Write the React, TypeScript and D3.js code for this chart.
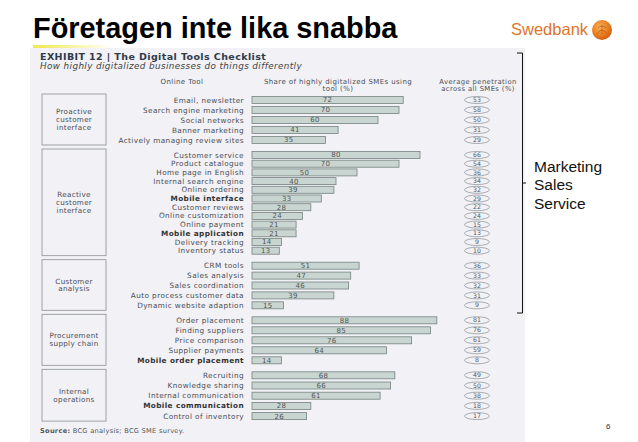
import * as d3 from "d3";

// data read from the scanned exhibit
const groupNames = [
  ["Proactive", "customer", "interface"],
  ["Reactive", "customer", "interface"],
  ["Customer", "analysis"],
  ["Procurement", "supply chain"],
  ["Internal", "operations"],
];

const tools = [
  "Email, newsletter", "Search engine marketing", "Social networks", "Banner marketing", "Actively managing review sites",
  "Customer service", "Product catalogue", "Home page in English", "Internal search engine", "Online ordering",
  "Mobile interface", "Customer reviews", "Online customization", "Online payment", "Mobile application",
  "Delivery tracking", "Inventory status",
  "CRM tools", "Sales analysis", "Sales coordination", "Auto process customer data", "Dynamic website adaption",
  "Order placement", "Finding suppliers", "Price comparison", "Supplier payments", "Mobile order placement",
  "Recruiting", "Knowledge sharing", "Internal communication", "Mobile communication", "Control of inventory",
];
const toolGroup = [
  0, 0, 0, 0, 0,
  1, 1, 1, 1, 1, 1, 1, 1, 1, 1, 1, 1,
  2, 2, 2, 2, 2,
  3, 3, 3, 3, 3,
  4, 4, 4, 4, 4,
];
const shareHighly = [
  72, 70, 60, 41, 35,
  80, 70, 50, 40, 39, 33, 28, 24, 21, 21, 14, 13,
  51, 47, 46, 39, 15,
  88, 85, 76, 64, 14,
  68, 66, 61, 28, 26,
];
const avgAll = [
  53, 58, 50, 31, 29,
  66, 54, 36, 34, 32, 29, 22, 24, 15, 13, 9, 10,
  36, 33, 32, 31, 9,
  81, 76, 61, 59, 8,
  49, 50, 38, 18, 17,
];
const boldTools = ["Mobile interface", "Mobile application", "Mobile order placement", "Mobile communication"];
const sideNotes = ["Marketing", "Sales", "Service"];

const W = 638;
const H = 442;

export default function App() {
  // the scan is slightly uneven: the long second block is packed tighter
  const rowStep = [10, 8.7, 9.9, 10, 10.2];
  const groupGap = 15;
  const rowY: number[] = [];
  tools.forEach((_, i) => {
    if (i === 0) rowY.push(100);
    else if (toolGroup[i] !== toolGroup[i - 1]) rowY.push(rowY[i - 1] + groupGap);
    else rowY.push(rowY[i - 1] + rowStep[toolGroup[i]]);
  });
  const x = d3.scaleLinear().domain([0, 100]).range([252, 462]);
  const small = "'DejaVu Sans', Verdana, sans-serif";
  const arial = "Arial, 'Liberation Sans', sans-serif";
  const ink = "#4a4f55";

  const boxes = groupNames.map((lines, g) => {
    const ys = rowY.filter((_, i) => toolGroup[i] === g);
    return { lines, top: d3.min(ys)! - 6, bottom: d3.max(ys)! + 5 };
  });

  return (
    <svg width={W} height={H} style={{ position: "absolute", left: 0, top: 0 }}>
      <defs>
        <radialGradient id="logo" cx="40%" cy="35%" r="70%">
          <stop offset="0%" stopColor="#f7b35a" />
          <stop offset="60%" stopColor="#ea7d20" />
          <stop offset="100%" stopColor="#c95a10" />
        </radialGradient>
        <linearGradient id="hl" x1="0" x2="1">
          <stop offset="0%" stopColor="#f2e84a" />
          <stop offset="100%" stopColor="#f2e84a" stopOpacity="0" />
        </linearGradient>
      </defs>
      <rect width={W} height={H} fill="#fff" />

      {/* slide title + logo */}
      <text x={33} y={38} fontFamily={arial} fontWeight="bold" fontSize={28.9} fill="#000">
        Företagen inte lika snabba
      </text>
      <text x={511} y={35} fontFamily={arial} fontSize={16.5} fill="#e0742a">
        Swedbank
      </text>
      <circle cx={602} cy={30} r={10} fill="url(#logo)" />
      <path d="M597,34 q5,-8 10,0 M602,34 v-9 M598,28 q4,-4 8,0" stroke="#a8460a" strokeWidth={0.8} fill="none" opacity={0.7} />

      {/* scanned exhibit area */}
      <rect x={30} y={48} width={495} height={394} fill="#f1f1f6" />
      <rect x={33} y={45} width={80} height={3} fill="url(#hl)" />
      <text x={40} y={60} fontFamily={small} fontSize={9.5} letterSpacing={0.4} fontWeight="bold" fill="#2e3b4a">
        EXHIBIT 12 | The Digital Tools Checklist
      </text>
      <text x={40} y={69} fontFamily={small} fontSize={8.8} letterSpacing={0.4} fontStyle="italic" fill="#444">
        How highly digitalized businesses do things differently
      </text>

      <g fontFamily={small} fontSize={7} letterSpacing={0.4} fill={ink} textAnchor="middle">
        <text x={182} y={84}>Online Tool</text>
        <text x={338} y={83.5}>Share of highly digitalized SMEs using</text>
        <text x={338} y={91}>tool (%)</text>
        <text x={478} y={83.5} fontSize={6.8}>Average penetration</text>
        <text x={478} y={91} fontSize={6.8}>across all SMEs (%)</text>
      </g>

      {boxes.map((b, g) => {
        const mid = (b.top + b.bottom) / 2;
        return (
          <g key={"box" + g}>
            <rect x={42} y={b.top} width={64} height={b.bottom - b.top} fill="none" stroke="#8a9095" strokeWidth={0.8} />
            {b.lines.map((l, k) => (
              <text
                key={k}
                x={74}
                y={mid + (k - (b.lines.length - 1) / 2) * 7.8}
                dy="0.35em"
                textAnchor="middle"
                fontFamily={small}
                fontSize={7.2}
                letterSpacing={0.3}
                fill={ink}
              >
                {l}
              </text>
            ))}
          </g>
        );
      })}

      {tools.map((t, i) => (
        <g key={t}>
          <text
            x={244}
            y={rowY[i]}
            dy="0.35em"
            textAnchor="end"
            fontFamily={small}
            fontSize={7.3}
            letterSpacing={0.4}
            fontWeight={boldTools.includes(t) ? "bold" : "normal"}
            fill={boldTools.includes(t) ? "#333" : ink}
          >
            {t}
          </text>
          <rect
            x={x(0)}
            y={rowY[i] - 3.5}
            width={x(shareHighly[i]) - x(0)}
            height={7}
            fill="#c8d5d1"
            stroke="#76837f"
            strokeWidth={0.8}
          />
          <text
            x={(x(0) + x(shareHighly[i])) / 2}
            y={rowY[i]}
            dy="0.35em"
            textAnchor="middle"
            fontFamily={small}
            fontSize={7}
            letterSpacing={0.3}
            fill="#555"
          >
            {shareHighly[i]}
          </text>
          <ellipse cx={477} cy={rowY[i]} rx={12.5} ry={3.5} fill="none" stroke="#8a8f94" strokeWidth={0.7} />
          <text x={477} y={rowY[i]} dy="0.35em" textAnchor="middle" fontFamily={small} fontSize={6.2} fill="#555">
            {avgAll[i]}
          </text>
        </g>
      ))}

      <text x={40} y={433} fontFamily={small} fontSize={6.6} letterSpacing={0.3} fill="#555">
        <tspan fontWeight="bold">Source:</tspan> BCG analysis; BCG SME survey.
      </text>

      {/* bracket with notes */}
      <path d="M517,53 H522.5 V313 H517 M522.5,183 H526" fill="none" stroke="#111" strokeWidth={1} />
      {sideNotes.map((s, k) => (
        <text key={s} x={534} y={172 + k * 18.3} fontFamily={arial} fontSize={15.5} fill="#111">
          {s}
        </text>
      ))}
      <text x={606} y={429} fontFamily={arial} fontSize={8} fill="#333">
        6
      </text>
    </svg>
  );
}
